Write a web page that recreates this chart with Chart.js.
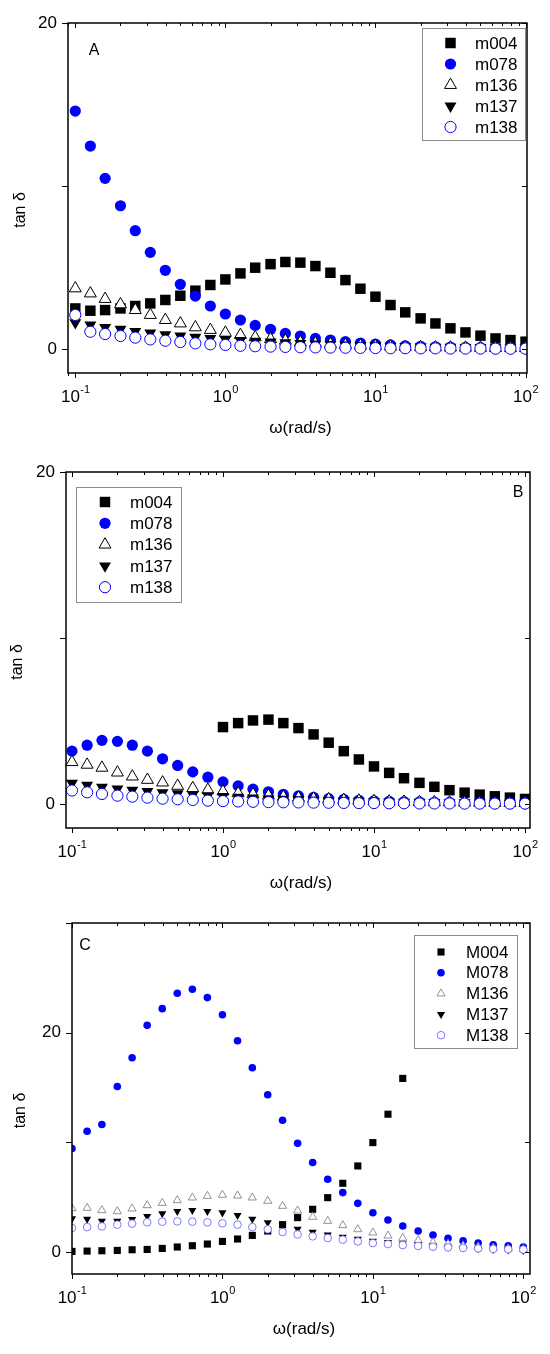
<!DOCTYPE html>
<html>
<head>
<meta charset="utf-8">
<script src="https://cdn.jsdelivr.net/npm/chart.js@4.4.0/dist/chart.umd.min.js"></script>
<style>
body{margin:0;background:#fff;width:550px;height:1354px;overflow:hidden;position:relative}
.panel{position:absolute;left:0;width:550px}
</style>
</head>
<body>
<div class="panel" style="top:0;height:445px"><canvas id="chartA" width="550" height="445"></canvas></div>
<div class="panel" style="top:445px;height:450px"><canvas id="chartB" width="550" height="450"></canvas></div>
<div class="panel" style="top:895px;height:459px"><canvas id="chartC" width="550" height="459"></canvas></div>
<script>
// angular frequency (rad/s), 10 points per decade
const omega = [0.1, 0.126, 0.158, 0.2, 0.251, 0.316, 0.398, 0.501, 0.631, 0.794,
  1, 1.26, 1.58, 2, 2.51, 3.16, 3.98, 5.01, 6.31, 7.94,
  10, 12.6, 15.8, 20, 25.1, 31.6, 39.8, 50.1, 63.1, 79.4, 100];

const decadeTicks = [0.1, 1, 10, 100];
const decadeExponents = ['-1', '0', '1', '2'];

const namesAB = ['m004', 'm078', 'm136', 'm137', 'm138'];
const namesC = ['M004', 'M078', 'M136', 'M137', 'M138'];

const yTicksAB = [0, 10, 20];
const yTickLabelsAB = ['0', '', '20'];
const yTicksC = [0, 10, 20, 30];
const yTickLabelsC = ['0', '', '20', ''];

// panel A
const a004 = [2.49,2.35,2.39,2.49,2.64,2.80,3.01,3.27,3.58,3.93,4.27,4.64,4.99,5.21,5.34,5.30,5.09,4.68,4.23,3.70,3.21,2.70,2.25,1.88,1.57,1.27,1.02,0.82,0.65,0.55,0.45];
const a078 = [14.6,12.45,10.47,8.79,7.26,5.93,4.83,3.97,3.25,2.64,2.15,1.78,1.45,1.21,0.96,0.80,0.65,0.55,0.45,0.37,0.31,0.25,0.20,0.17,0.14,0.12,0.10,0.09,0.08,0.07,0.06];
const a136 = [3.72,3.41,3.07,2.74,2.39,2.09,1.78,1.57,1.33,1.17,1.00,0.86,0.72,0.61,0.51,0.41,0.35,0.30,0.25,0.21,0.18,0.15,0.13,0.11,0.10,0.09,0.08,0.07,0.06,0.05,0.05];
const a137 = [1.62,1.47,1.33,1.21,1.08,0.98,0.88,0.80,0.72,0.65,0.59,0.53,0.48,0.43,0.39,0.35,0.31,0.28,0.25,0.22,0.20,0.18,0.16,0.14,0.12,0.11,0.10,0.09,0.08,0.07,0.06];
const a138 = [2.09,1.06,0.92,0.80,0.70,0.59,0.51,0.43,0.35,0.29,0.25,0.20,0.17,0.15,0.13,0.11,0.10,0.09,0.08,0.07,0.06,0.05,0.05,0.04,0.04,0.03,0.03,0.03,0.02,0.02,0.02];

// panel B
const b004 = [null,null,null,null,null,null,null,null,null,null,4.63,4.87,5.03,5.08,4.87,4.57,4.19,3.69,3.18,2.68,2.26,1.87,1.55,1.27,1.03,0.83,0.68,0.56,0.46,0.38,0.30];
const b078 = [3.18,3.54,3.83,3.77,3.54,3.18,2.72,2.32,1.93,1.61,1.33,1.09,0.89,0.73,0.58,0.48,0.40,0.32,0.28,0.22,0.19,0.16,0.14,0.12,0.10,0.09,0.08,0.07,0.06,0.05,0.05];
const b136 = [2.52,2.36,2.18,1.89,1.65,1.45,1.29,1.09,0.95,0.85,0.75,0.64,0.58,0.50,0.43,0.37,0.32,0.28,0.24,0.20,0.17,0.15,0.13,0.11,0.10,0.09,0.08,0.07,0.06,0.05,0.05];
const b137 = [1.25,1.13,1.01,0.91,0.83,0.75,0.68,0.61,0.55,0.50,0.45,0.40,0.36,0.32,0.28,0.25,0.22,0.20,0.18,0.16,0.14,0.12,0.11,0.10,0.09,0.08,0.07,0.06,0.05,0.05,0.04];
const b138 = [0.81,0.70,0.60,0.50,0.44,0.38,0.32,0.28,0.24,0.20,0.17,0.15,0.13,0.11,0.10,0.09,0.08,0.07,0.06,0.05,0.05,0.04,0.04,0.03,0.03,0.03,0.02,0.02,0.02,0.02,0.02];

// panel C
const c004 = [0.06,0.09,0.12,0.15,0.21,0.24,0.33,0.46,0.58,0.73,0.97,1.19,1.52,1.92,2.50,3.14,3.90,4.96,6.27,7.85,9.98,12.57,15.83,null,null,null,null,null,null,null,null];
const c078 = [9.44,11.02,11.63,15.10,17.72,20.67,22.19,23.59,23.96,23.20,21.64,19.27,16.80,14.34,12.02,9.92,8.16,6.64,5.42,4.44,3.59,2.92,2.37,1.92,1.55,1.25,1.03,0.82,0.67,0.58,0.46];
const c136 = [3.99,4.02,3.81,3.71,3.96,4.26,4.47,4.72,4.96,5.11,5.21,5.14,4.96,4.66,4.20,3.77,3.20,2.83,2.44,2.07,1.77,1.49,1.28,1.07,0.88,0.76,0.60,0.50,0.40,0.33,0.27];
const c137 = [3.04,3.01,2.83,2.83,2.98,3.26,3.50,3.71,3.81,3.71,3.59,3.35,3.01,2.68,2.40,2.10,1.83,1.58,1.37,1.19,1.00,0.88,0.76,0.65,0.55,0.45,0.38,0.31,0.25,0.20,0.16];
const c138 = [2.19,2.28,2.34,2.50,2.59,2.71,2.77,2.80,2.77,2.71,2.62,2.50,2.28,2.07,1.83,1.61,1.43,1.28,1.13,0.97,0.82,0.73,0.64,0.56,0.49,0.43,0.38,0.33,0.29,0.26,0.23];

const FONT = "'Liberation Sans', Arial, sans-serif";

function seriesStyles(small) {
	const k = small ? 0.68 : 1;
	return [
		{pointStyle: 'rect', radius: 7.4 * k, rotation: 0, fill: '#000', stroke: '#000', bw: 0},
		{pointStyle: 'circle', radius: 5.6 * k, rotation: 0, fill: '#0000ff', stroke: '#0000ff', bw: 0},
		{pointStyle: 'triangle', radius: 6.9 * k, rotation: 0, fill: '#fff', stroke: small ? '#777' : '#000', bw: small ? 0.8 : 1},
		{pointStyle: 'triangle', radius: 6.9 * k, rotation: 180, fill: '#000', stroke: '#000', bw: 0},
		{pointStyle: 'circle', radius: 5.6 * k, rotation: 0, fill: '#fff', stroke: small ? '#5b5bff' : '#0000ff', bw: small ? 0.8 : 1}
	];
}

// same geometry as Chart.js point styles, used for the legend
function drawMarker(ctx, s, x, y) {
	ctx.beginPath();
	if (s.pointStyle === 'rect') {
		const h = s.radius * Math.SQRT1_2;
		ctx.rect(x - h, y - h, 2 * h, 2 * h);
	} else if (s.pointStyle === 'circle') {
		ctx.arc(x, y, s.radius, 0, 2 * Math.PI);
	} else {
		let r = s.rotation * Math.PI / 180;
		for (let k = 0; k < 3; k++) {
			const px = x + Math.sin(r) * s.radius, py = y - Math.cos(r) * s.radius;
			if (k === 0) ctx.moveTo(px, py); else ctx.lineTo(px, py);
			r += 2 * Math.PI / 3;
		}
		ctx.closePath();
	}
	ctx.fillStyle = s.fill;
	ctx.fill();
	if (s.bw > 0) {
		ctx.lineWidth = s.bw;
		ctx.strokeStyle = s.stroke;
		ctx.stroke();
	}
}

const framePlugin = {
	id: 'frame',
	afterDraw(chart, args, o) {
		const ctx = chart.ctx, a = chart.chartArea;
		const xs = chart.scales.x, ys = chart.scales.y;
		ctx.save();
		ctx.strokeStyle = '#000';
		ctx.lineWidth = 1.5;
		ctx.strokeRect(a.left, a.top, a.right - a.left, a.bottom - a.top);

		// tick marks: out on bottom/left, in on top/right
		ctx.lineWidth = 1;
		ctx.beginPath();
		for (let d = -2; d <= 2; d++) {
			for (let m = 1; m <= 9; m++) {
				const v = m * Math.pow(10, d);
				if (v < xs.min || v > xs.max) continue;
				const px = Math.round(xs.getPixelForValue(v)) + 0.5;
				const len = m === 1 ? 5 : 3;
				ctx.moveTo(px, a.bottom); ctx.lineTo(px, a.bottom + len);
				ctx.moveTo(px, a.top); ctx.lineTo(px, a.top + len);
			}
		}
		ys.ticks.forEach(t => {
			const py = Math.round(ys.getPixelForValue(t.value)) + 0.5;
			ctx.moveTo(a.left - 6, py); ctx.lineTo(a.left, py);
			ctx.moveTo(a.right - 5, py); ctx.lineTo(a.right, py);
		});
		ctx.stroke();

		// decade labels 10^n
		ctx.fillStyle = '#000';
		ctx.textBaseline = 'middle';
		ctx.textAlign = 'left';
		decadeTicks.forEach((v, i) => {
			const px = xs.getPixelForValue(v);
			ctx.font = '17px ' + FONT;
			const w1 = ctx.measureText('10').width;
			ctx.font = '11px ' + FONT;
			const w2 = ctx.measureText(decadeExponents[i]).width;
			const x0 = px - (w1 + w2) / 2;
			ctx.font = '17px ' + FONT;
			ctx.fillText('10', x0, a.bottom + 24);
			ctx.font = '11px ' + FONT;
			ctx.fillText(decadeExponents[i], x0 + w1 + 0.5, a.bottom + 17);
		});

		// axis titles
		ctx.textAlign = 'center';
		ctx.font = '17px ' + FONT;
		ctx.fillText('ω(rad/s)', (a.left + a.right) / 2 + 3, a.bottom + 55);
		ctx.save();
		ctx.translate(o.yTitleX, (a.top + a.bottom) / 2 + 12);
		ctx.rotate(-Math.PI / 2);
		ctx.font = '16px ' + FONT;
		ctx.fillText('tan δ', 0, 0);
		ctx.restore();

		// panel letter
		ctx.font = '16px ' + FONT;
		ctx.fillText(o.letter, o.letterX, o.letterY);

		// legend
		const b = o.legendBox;
		ctx.strokeStyle = '#8c8c8c';
		ctx.lineWidth = 1;
		ctx.strokeRect(b[0] + 0.5, b[1] + 0.5, b[2], b[3]);
		ctx.textAlign = 'left';
		chart.data.datasets.forEach((ds, i) => {
			const y = o.rowY0 + i * o.rowGap;
			drawMarker(ctx, o.styles[i], o.markerX, y);
			ctx.fillStyle = '#000';
			ctx.font = '17px ' + FONT;
			ctx.fillText(ds.label, o.textX, y + 1);
		});
		ctx.restore();
	}
};

function makeChart(id, p) {
	const st = seriesStyles(p.small);
	const datasets = p.series.map((vals, i) => ({
		label: p.names[i],
		data: omega.map((x, j) => ({x: x, y: vals[j]})).filter(d => d.y !== null),
		showLine: false,
		pointStyle: st[i].pointStyle,
		pointRadius: st[i].radius,
		pointHoverRadius: st[i].radius,
		pointRotation: st[i].rotation,
		pointBackgroundColor: st[i].fill,
		pointBorderColor: st[i].stroke,
		pointBorderWidth: st[i].bw,
		order: p.series.length - i,
		clip: 0
	}));
	return new Chart(document.getElementById(id), {
		type: 'scatter',
		data: {datasets: datasets},
		options: {
			responsive: false,
			animation: false,
			events: [],
			layout: {padding: {left: 0, right: p.padRight, top: p.padTop, bottom: 0}},
			plugins: {
				legend: {display: false},
				tooltip: {enabled: false},
				frame: {
					letter: p.letter, letterX: p.letterX, letterY: p.letterY,
					legendBox: p.legendBox, rowY0: p.rowY0, rowGap: p.rowGap,
					markerX: p.markerX, textX: p.textX, yTitleX: p.yTitleX,
					styles: st
				}
			},
			scales: {
				x: {
					type: 'logarithmic', min: p.xMin, max: p.xMax,
					grid: {display: false, drawTicks: false},
					border: {display: false},
					ticks: {display: false},
					afterFit: s => { s.height = p.xAxisH; }
				},
				y: {
					type: 'linear', min: p.yMin, max: p.yMax,
					grid: {display: false, drawTicks: false},
					border: {display: false},
					afterBuildTicks: s => { s.ticks = p.yTicks.map(v => ({value: v})); },
					ticks: {
						autoSkip: false, padding: 11, color: '#000',
						font: {family: FONT, size: 17},
						callback: (v, i) => p.yLabels[i]
					},
					afterFit: s => { s.width = p.yAxisW; }
				}
			}
		},
		plugins: [framePlugin]
	});
}

makeChart('chartA', {
	series: [a004, a078, a136, a137, a138], names: namesAB, small: false,
	padTop: 23, padRight: 23, yAxisW: 68, xAxisH: 72,
	xMin: 0.0894, xMax: 102.3, yMin: -1.47, yMax: 20,
	yTicks: yTicksAB, yLabels: yTickLabelsAB,
	letter: 'A', letterX: 94, letterY: 51,
	legendBox: [422, 28, 103, 112], rowY0: 43, rowGap: 21, markerX: 450.5, textX: 475,
	yTitleX: 21
});

makeChart('chartB', {
	series: [b004, b078, b136, b137, b138], names: namesAB, small: false,
	padTop: 27, padRight: 20, yAxisW: 66, xAxisH: 67,
	xMin: 0.0913, xMax: 107.9, yMin: -1.45, yMax: 20,
	yTicks: yTicksAB, yLabels: yTickLabelsAB,
	letter: 'B', letterX: 518, letterY: 48,
	legendBox: [76, 42, 105, 115], rowY0: 57, rowGap: 21.3, markerX: 105, textX: 130,
	yTitleX: 18
});

makeChart('chartC', {
	series: [c004, c078, c136, c137, c138], names: namesC, small: true,
	padTop: 28, padRight: 20, yAxisW: 72, xAxisH: 80,
	xMin: 0.1, xMax: 110.8, yMin: -2, yMax: 30,
	yTicks: yTicksC, yLabels: yTickLabelsC,
	letter: 'C', letterX: 85, letterY: 51,
	legendBox: [414, 40, 103, 113], rowY0: 57, rowGap: 20.8, markerX: 441, textX: 466,
	yTitleX: 21
});
</script>
</body>
</html>
